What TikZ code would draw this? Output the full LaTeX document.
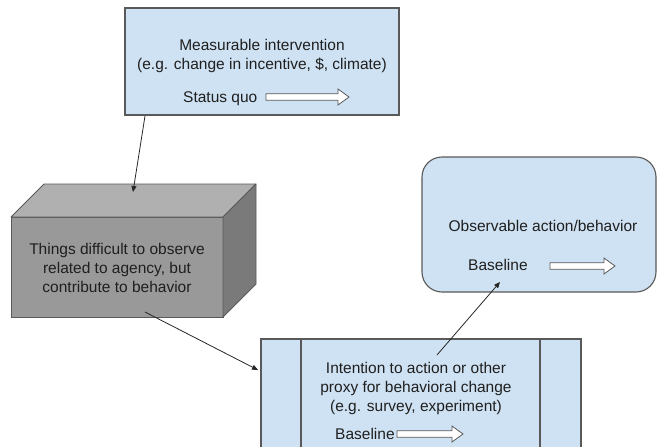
\documentclass[tikz,border=0pt]{standalone}
\usepackage{fontspec}
\setmainfont{Liberation Sans}
\usetikzlibrary{arrows.meta,calc}
\definecolor{boxblue}{HTML}{CFE2F3}
\definecolor{edgegray}{HTML}{595959}
\definecolor{cubefront}{HTML}{999999}
\definecolor{cubetop}{HTML}{B0B0B0}
\definecolor{cubeside}{HTML}{7A7A7A}
\definecolor{txt}{HTML}{1F1F1F}
\newcommand\hollowarr[3]{%
  \draw[hollowarrow] (#1,#3-3.25) -- (#2-11,#3-3.25) -- (#2-11,#3-8) -- (#2,#3)
    -- (#2-11,#3+8) -- (#2-11,#3+3.25) -- (#1,#3+3.25) -- cycle;}
\begin{document}
\begin{tikzpicture}[x=1pt,y=-1pt,
  font=\fontsize{15.5}{19}\selectfont,
  box/.style={draw=edgegray, fill=boxblue, line width=1.1pt, inner sep=0pt, outer sep=0pt},
  lbl/.style={anchor=base, inner sep=0pt, text=txt},
  conn/.style={draw=black!85, line width=0.8pt, -{Triangle[length=6pt,width=5pt]}},
  hollowarrow/.style={draw=edgegray, fill=white, line width=0.8pt, line join=miter},
  cubeface/.style={draw=edgegray, line width=0.8pt, line join=round}]
\useasboundingbox (0,0) rectangle (657,447);
\clip (0,0) rectangle (657,447);

% top box
\node[box, minimum width=274pt, minimum height=107pt, anchor=north west] (top) at (125,8) {};
\node[lbl] (t1) at (262,50) {Measurable intervention};
\node[lbl] (t2) at (262,69) {(e.g. change in incentive, \$, climate)};
\node[lbl, anchor=base west] (t3) at (183,102) {Status quo};
\hollowarr{266}{349}{97}

% cube
\node[draw=edgegray, fill=cubefront, line width=0.8pt, minimum width=212pt, minimum height=100pt,
  anchor=north west, inner sep=0pt, outer sep=0pt] (cube) at (11,217) {};
\draw[cubeface, fill=cubetop] (cube.north west) -- ++(33,-33) -- ($(cube.north east)+(33,-33)$) -- (cube.north east) -- cycle;
\draw[cubeface, fill=cubeside] (cube.north east) -- ++(33,-33) -- ($(cube.south east)+(33,-33)$) -- (cube.south east) -- cycle;
\node[lbl] (c1) at (117,254.3) {Things difficult to observe};
\node[lbl] (c2) at (117,273.5) {related to agency, but};
\node[lbl] (c3) at (117,292.7) {contribute to behavior};

% observable box
\node[box, rounded corners=20pt, minimum width=234pt, minimum height=135pt, anchor=north west] (obs) at (422,157) {};
\node[lbl] (o1) at (543,231.7) {Observable action/behavior};
\node[lbl, anchor=base west] (o2) at (468,270) {Baseline};
\hollowarr{550}{615}{266}

% proxy box
\node[box, minimum width=320pt, minimum height=130pt, anchor=north west] (proxy) at (261,339) {};
\draw[edgegray, line width=1.1pt] ($(proxy.north west)+(40,0)$) -- ($(proxy.south west)+(40,0)$);
\draw[edgegray, line width=1.1pt] ($(proxy.north east)+(-41,0)$) -- ($(proxy.south east)+(-41,0)$);
\node[lbl] (p1) at (416,373.3) {Intention to action or other};
\node[lbl] (p2) at (416,392.3) {proxy for behavioral change};
\node[lbl] (p3) at (416,411.3) {(e.g. survey, experiment)};
\node[lbl, anchor=base west] (p4) at (335,439.3) {Baseline};
\hollowarr{397}{463}{434}

% connectors
\draw[conn] ($(top.south west)+(20,1)$) -- ($(cube.north west)+(122,-25)$);
\draw[conn] ($(cube.south west)+(134,-5)$) -- ($(proxy.north west)+(-3,31)$);
\draw[conn] ($(proxy.north west)+(176,16)$) -- ($(obs.south west)+(78,-10)$);
\end{tikzpicture}
\end{document}
